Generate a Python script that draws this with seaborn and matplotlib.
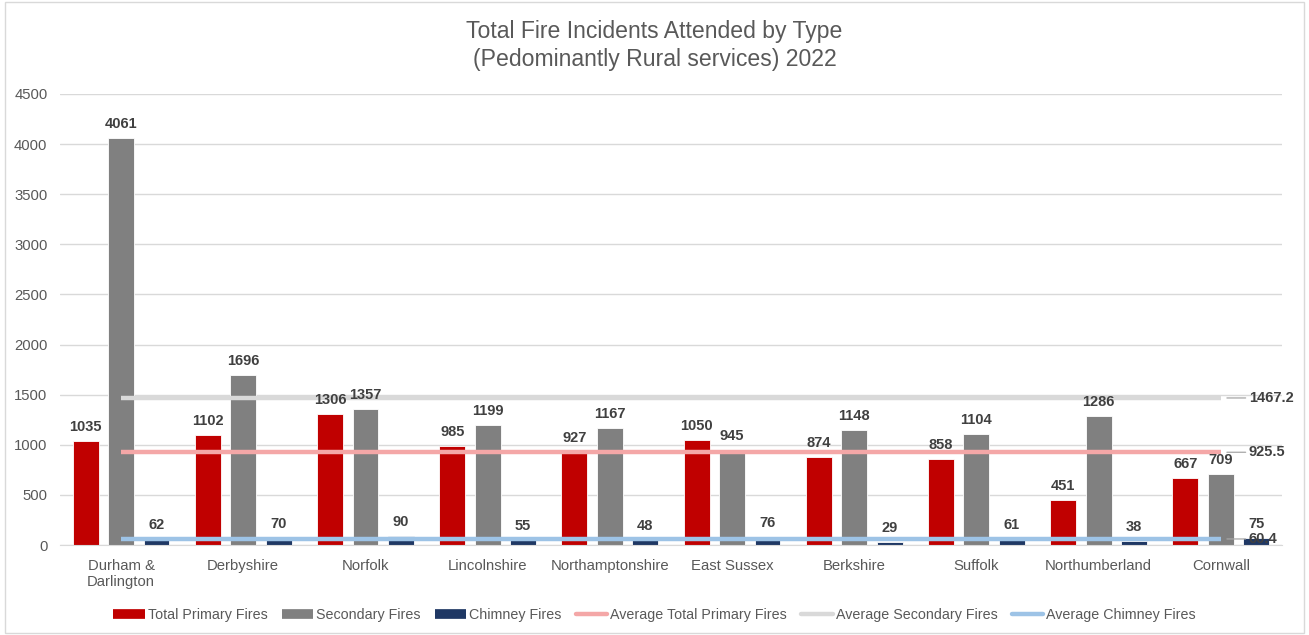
import matplotlib
matplotlib.use("Agg")
import pandas as pd
import matplotlib.pyplot as plt
import seaborn as sns
from matplotlib.patches import Rectangle
from matplotlib.lines import Line2D

services = ["Durham &\nDarlington", "Derbyshire", "Norfolk", "Lincolnshire", "Northamptonshire",
            "East Sussex", "Berkshire", "Suffolk", "Northumberland", "Cornwall"]
primary = [1035, 1102, 1306, 985, 927, 1050, 874, 858, 451, 667]
secondary = [4061, 1696, 1357, 1199, 1167, 945, 1148, 1104, 1286, 709]
chimney = [62, 70, 90, 55, 48, 76, 29, 61, 38, 75]
series_names = ["Total Primary Fires", "Secondary Fires", "Chimney Fires"]
avg_names = ["Average Total Primary Fires", "Average Secondary Fires", "Average Chimney Fires"]
averages = [925.5, 1467.2, 60.4]

bar_colors = ["#C00000", "#808080", "#1F3864"]
avg_colors = ["#F4A7A7", "#D9D9D9", "#9DC3E6"]
text_grey = "#595959"

df = pd.DataFrame({"Service": services, series_names[0]: primary,
                   series_names[1]: secondary, series_names[2]: chimney})
long_df = df.melt(id_vars="Service", var_name="Type", value_name="Count")

sns.set_style("white")
plt.rcParams["font.family"] = ["Liberation Sans", "DejaVu Sans"]

fig = plt.figure(figsize=(13.09, 6.35), dpi=100)
ax = fig.add_axes([0.0458, 0.1417, 0.9335, 0.7103])

sns.barplot(data=long_df, x="Service", y="Count", hue="Type", hue_order=series_names,
            palette=bar_colors, saturation=1, width=0.87, gap=0.27, edgecolor="white",
            linewidth=0.6, legend=False, ax=ax, zorder=2)

# data labels
for container in ax.containers:
    ax.bar_label(container, fmt="%d", padding=5, fontsize=10.5, fontweight="bold",
                 color="#404040", zorder=5)

# average lines with leader labels on the right
n = len(services)
for avg, col in zip(averages, avg_colors):
    ax.plot([0, n - 1], [avg, avg], color=col, lw=3.2, zorder=2.5, solid_capstyle="butt")
    ax.annotate(f"{avg}", xy=(n - 1 + 0.05, avg), xytext=(n - 1 + 0.23, avg),
                ha="left", va="center", fontsize=10.5, fontweight="bold", color="#404040",
                annotation_clip=False, zorder=5,
                arrowprops=dict(arrowstyle="-", color="#A6A6A6", lw=0.9, shrinkA=0, shrinkB=0))

ax.set_xlim(-0.5, n - 0.5)
ax.set_ylim(0, 4500)
ax.set_yticks(range(0, 4501, 500))
ax.yaxis.grid(True, color="#D9D9D9", lw=1)
ax.set_axisbelow(True)
for s in ["top", "right", "left"]:
    ax.spines[s].set_visible(False)
ax.spines["bottom"].set_color("#D9D9D9")
ax.tick_params(axis="both", length=0, labelsize=10.7, labelcolor=text_grey)
ax.tick_params(axis="y", pad=9)
ax.tick_params(axis="x", pad=10)
ax.set_xlabel("")
ax.set_ylabel("")

fig.suptitle("Total Fire Incidents Attended by Type\n(Pedominantly Rural services) 2022",
             y=0.969, fontsize=16.6, color=text_grey, linespacing=1.3)

handles = [Line2D([0], [0], color=c, lw=7, solid_capstyle="butt") for c in bar_colors]
handles += [Line2D([0], [0], color=c, lw=3.2) for c in avg_colors]
fig.legend(handles, series_names + avg_names, loc="center", bbox_to_anchor=(0.5, 0.031),
           ncol=6, frameon=False, fontsize=10.3, labelcolor=text_grey,
           handlelength=2.2, handletextpad=0.2, columnspacing=1.0)

fig.patches.append(Rectangle((0.004, 0.003), 0.992, 0.994, transform=fig.transFigure,
                             fill=False, edgecolor="#D9D9D9", lw=1))

fig.savefig("out.png", dpi=100)
